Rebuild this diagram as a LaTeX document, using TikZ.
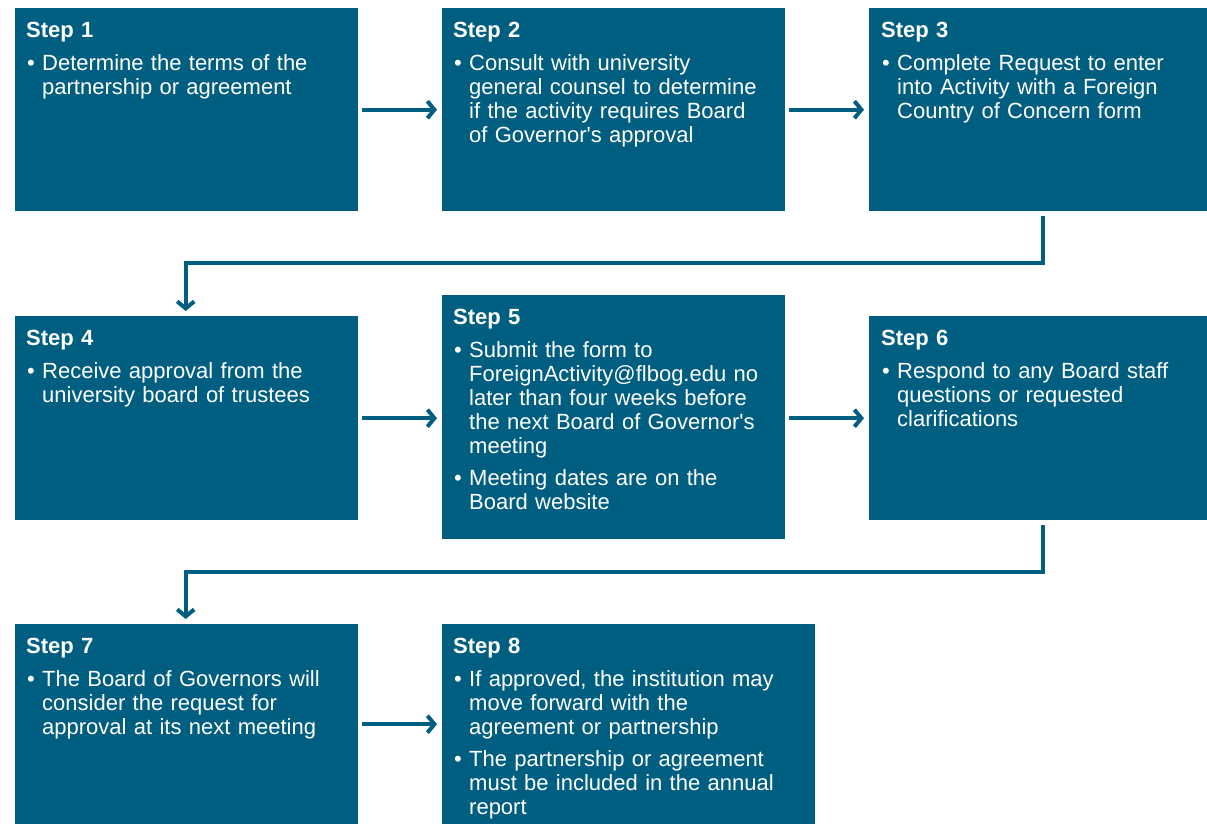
\documentclass[tikz,border=0pt]{standalone}
\usepackage{fontspec}
\setmainfont{Liberation Sans}[Ligatures=TeXOff]
\usetikzlibrary{arrows.meta}
\definecolor{teal}{RGB}{0,94,128}
\newcommand\stp[1]{{\bfseries Step #1}\par\vspace{9pt}}
\newcommand\bitem[1]{\par\hangindent=16pt\hangafter=1\noindent\hbox to 16pt{\hspace{1pt}\textbullet\hfil}#1\par}
\newcommand\nl{\newline}
\newcommand\gap{\vspace{8pt}}
\begin{document}
\begin{tikzpicture}[x=1pt,y=-1pt,
  box/.style={fill=teal, draw=none, anchor=north west, inner sep=0pt},
  txt/.style={anchor=base west, inner sep=0pt, text=white, text width=360pt, align=left,
    font=\fontsize{22}{24}\selectfont},
  arr/.style={draw=teal, line width=4pt, -{Straight Barb[length=7pt,width=17pt]}}]
\useasboundingbox (0,0) rectangle (1207,824);
\fill[white] (0,0) rectangle (1207,824);
% boxes
\node[box, minimum width=343pt, minimum height=203pt] (b1) at (15,8) {};
\node[box, minimum width=343pt, minimum height=203pt] (b2) at (442,8) {};
\node[box, minimum width=338pt, minimum height=203pt] (b3) at (869,8) {};
\node[box, minimum width=343pt, minimum height=204pt] (b4) at (15,316) {};
\node[box, minimum width=343pt, minimum height=244pt] (b5) at (442,295) {};
\node[box, minimum width=338pt, minimum height=204pt] (b6) at (869,316) {};
\node[box, minimum width=343pt, minimum height=200pt] (b7) at (15,624) {};
\node[box, minimum width=373pt, minimum height=200pt] (b8) at (442,624) {};
% texts
\node[txt] (t1) at ([shift={(11,29.5)}]b1.north west) {\stp{1}\bitem{Determine the terms of the\nl partnership or agreement}};
\node[txt] (t2) at ([shift={(11,29.5)}]b2.north west) {\stp{2}\bitem{Consult with university\nl general counsel to determine\nl if the activity requires Board\nl of Governor's approval}};
\node[txt] (t3) at ([shift={(12,29.5)}]b3.north west) {\stp{3}\bitem{Complete Request to enter\nl into Activity with a Foreign\nl Country of Concern form}};
\node[txt] (t4) at ([shift={(11,29.5)}]b4.north west) {\stp{4}\bitem{Receive approval from the\nl university board of trustees}};
\node[txt] (t5) at ([shift={(11,29.5)}]b5.north west) {\stp{5}\bitem{Submit the form to\nl ForeignActivity@flbog.edu no\nl later than four weeks before\nl the next Board of Governor's\nl meeting}\gap\bitem{Meeting dates are on the\nl Board website}};
\node[txt] (t6) at ([shift={(12,29.5)}]b6.north west) {\stp{6}\bitem{Respond to any Board staff\nl questions or requested\nl clarifications}};
\node[txt] (t7) at ([shift={(11,29.5)}]b7.north west) {\stp{7}\bitem{The Board of Governors will\nl consider the request for\nl approval at its next meeting}};
\node[txt] (t8) at ([shift={(11,29.5)}]b8.north west) {\stp{8}\bitem{If approved, the institution may\nl move forward with the\nl agreement or partnership}\gap\bitem{The partnership or agreement\nl must be included in the annual\nl report}};
% arrows
\draw[arr] ([xshift=4pt]b1.east) -- ([xshift=-5pt]b1.east -| b2.west);
\draw[arr] ([xshift=4pt]b2.east) -- ([xshift=-5pt]b2.east -| b3.west);
\draw[arr] ([xshift=4pt]b4.east) -- ([xshift=-5pt]b4.east -| b5.west);
\draw[arr] ([xshift=4pt]b5.east |- b6.east) -- ([xshift=-5pt]b6.west);
\draw[arr] ([xshift=4pt]b7.east) -- ([xshift=-5pt]b7.east -| b8.west);
\coordinate (c3) at ([shift={(5,52)}]b3.south);
\coordinate (c6) at ([shift={(5,52)}]b6.south);
\draw[arr, line join=miter] ([shift={(5,5)}]b3.south) -- (c3) -| ([shift={(-1,-5)}]b4.north);
\draw[arr, line join=miter] ([shift={(5,5)}]b6.south) -- (c6) -| ([shift={(-1,-5)}]b7.north);
\end{tikzpicture}
\end{document}
